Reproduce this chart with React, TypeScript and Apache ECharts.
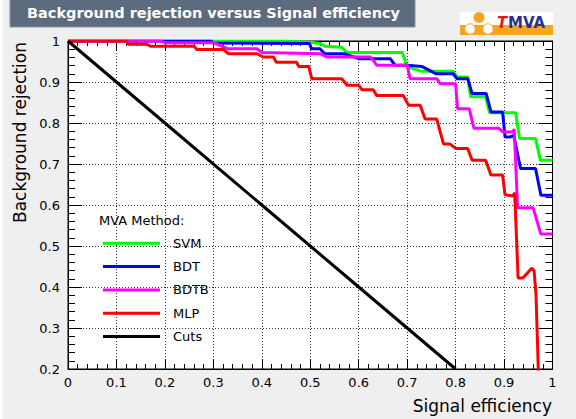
import React, { useEffect, useRef } from "react";
import * as echarts from "echarts";

// ---- data ----
const seriesNames = ["SVM", "BDT", "BDTB", "MLP", "Cuts"];
const seriesColors = ["#00ff00", "#0000ff", "#ff00ff", "#ff0000", "#000000"];

const svm: [number, number][] = [
  [0, 1], [0.44, 1], [0.5, 0.997], [0.52, 0.994], [0.53, 0.987], [0.565, 0.985],
  [0.575, 0.972], [0.69, 0.972], [0.7, 0.937], [0.73, 0.926], [0.795, 0.926],
  [0.803, 0.912], [0.825, 0.912], [0.831, 0.864], [0.862, 0.864], [0.87, 0.825],
  [0.924, 0.825], [0.932, 0.762], [0.965, 0.762], [0.975, 0.709], [1, 0.709],
];

const bdt: [number, number][] = [
  [0, 1], [0.295, 1], [0.3, 0.995], [0.498, 0.994], [0.503, 0.981], [0.52, 0.981],
  [0.53, 0.969], [0.57, 0.969], [0.6, 0.957], [0.665, 0.957], [0.675, 0.941],
  [0.7, 0.941], [0.73, 0.938], [0.76, 0.92], [0.795, 0.92], [0.803, 0.908],
  [0.825, 0.908], [0.834, 0.872], [0.863, 0.872], [0.873, 0.827], [0.897, 0.827],
  [0.902, 0.766], [0.913, 0.766], [0.92, 0.77], [0.934, 0.689], [0.965, 0.689],
  [0.976, 0.624], [1, 0.624],
];

const bdtb: [number, number][] = [
  [0, 1], [0.19, 1], [0.2, 0.996], [0.3, 0.996], [0.33, 0.981], [0.39, 0.981],
  [0.4, 0.972], [0.52, 0.969], [0.534, 0.961], [0.624, 0.961], [0.63, 0.953],
  [0.637, 0.941], [0.7, 0.941], [0.706, 0.908], [0.761, 0.908], [0.768, 0.896],
  [0.8, 0.896], [0.804, 0.835], [0.828, 0.835], [0.838, 0.787], [0.889, 0.787],
  [0.898, 0.778], [0.918, 0.778], [0.921, 0.785], [0.928, 0.593], [0.936, 0.593],
  [0.96, 0.593], [0.976, 0.529], [1, 0.529],
];

const mlp: [number, number][] = [
  [0, 1], [0.12, 1], [0.125, 0.992], [0.163, 0.992], [0.17, 0.987], [0.26, 0.987],
  [0.266, 0.979], [0.321, 0.979], [0.331, 0.969], [0.39, 0.969], [0.403, 0.961],
  [0.424, 0.961], [0.43, 0.948], [0.472, 0.948], [0.476, 0.938], [0.497, 0.938],
  [0.503, 0.908], [0.565, 0.908], [0.576, 0.892], [0.6, 0.892], [0.607, 0.881],
  [0.63, 0.881], [0.637, 0.867], [0.692, 0.867], [0.703, 0.843], [0.727, 0.843],
  [0.737, 0.81], [0.761, 0.81], [0.775, 0.749], [0.788, 0.749], [0.8, 0.738],
  [0.825, 0.738], [0.834, 0.709], [0.862, 0.709], [0.873, 0.673], [0.897, 0.673],
  [0.902, 0.625], [0.919, 0.622], [0.922, 0.63], [0.929, 0.422], [0.939, 0.422],
  [0.957, 0.446], [0.962, 0.44], [0.966, 0.38], [0.972, 0.15],
];

const cuts: [number, number][] = [
  [0, 1], [0.2, 0.8], [0.4, 0.6], [0.6, 0.4], [0.8, 0.2],
];

const seriesData = [svm, bdt, bdtb, mlp, cuts];

const titleText = "Background rejection versus Signal efficiency";
const xTitle = "Signal efficiency";
const yTitle = "Background rejection";
const legendHeader = "MVA Method:";

const FONT = "'DejaVu Sans', sans-serif";
const fmt = (v: number) => String(Math.round(v * 10) / 10);

export default function App() {
  const ref = useRef<HTMLDivElement>(null);

  useEffect(() => {
    document.body.style.margin = "0";
    if (!ref.current) return;
    const chart = echarts.init(ref.current, null, { renderer: "svg" });

    const tickCommon = (len: number, minorLen: number) => ({
      axisLine: { show: true, onZero: false, lineStyle: { color: "#000", width: 1 } },
      axisTick: { show: true, inside: true, length: len, lineStyle: { color: "#000", width: 1 } },
      minorTick: { show: true, splitNumber: 5, length: minorLen, lineStyle: { color: "#000", width: 1 } },
    });

    const gridLine = { show: true, lineStyle: { color: "#333", width: 1, type: [1, 2] } };

    const option: any = {
      animation: false,
      backgroundColor: "#efefef",
      grid: {
        left: 68, right: 23.5, top: 41, bottom: 50,
        show: true, backgroundColor: "#ffffff", borderColor: "#000", borderWidth: 1,
      },
      xAxis: [
        {
          type: "value", min: 0, max: 1, interval: 0.1, position: "bottom",
          ...tickCommon(10, 5),
          splitLine: gridLine,
          axisLabel: { margin: 7, color: "#000", fontFamily: FONT, fontSize: 13, formatter: fmt },
        },
        {
          type: "value", min: 0, max: 1, interval: 0.1, position: "top",
          ...tickCommon(10, 5),
          splitLine: { show: false },
          axisLabel: { show: false },
        },
      ],
      yAxis: [
        {
          type: "value", min: 0.2, max: 1, interval: 0.1, position: "left",
          ...tickCommon(14, 7),
          splitLine: gridLine,
          axisLabel: { margin: 8, color: "#000", fontFamily: FONT, fontSize: 13, formatter: fmt },
        },
        {
          type: "value", min: 0.2, max: 1, interval: 0.1, position: "right",
          ...tickCommon(14, 7),
          splitLine: { show: false },
          axisLabel: { show: false },
        },
      ],
      legend: {
        data: seriesNames,
        orient: "vertical",
        left: 103,
        top: 235.3,
        padding: 0,
        itemGap: 7.3,
        itemWidth: 57,
        itemHeight: 3,
        icon: "rect",
        selectedMode: false,
        textStyle: { fontFamily: FONT, fontSize: 13, color: "#000", lineHeight: 16, padding: [0, 0, 0, 8] },
      },
      series: seriesNames.map((name, i) => ({
        name,
        type: "line",
        xAxisIndex: 0,
        yAxisIndex: 0,
        data: seriesData[i],
        showSymbol: false,
        symbol: "none",
        clip: true,
        color: seriesColors[i],
        lineStyle: { color: seriesColors[i], width: 3 },
        z: 3 + i,
      })),
      graphic: [
        { type: "rect", z: 100, shape: { x: 0, y: 0, width: 3, height: 419 }, style: { fill: "#ffffff" } },
        {
          type: "rect", z: 100,
          shape: { x: 10, y: -1, width: 405, height: 28 },
          style: { fill: "#5d6b7e", stroke: "#8893a2", lineWidth: 1 },
        },
        {
          type: "text", z: 101, x: 27, y: 13,
          style: { text: titleText, fill: "#ffffff", font: `bold 14.5px ${FONT}`, verticalAlign: "middle" },
        },
        {
          type: "text", z: 101, x: 19.5, y: 42, rotation: Math.PI / 2,
          style: { text: yTitle, fill: "#000", font: `17px ${FONT}`, align: "right", verticalAlign: "middle" },
        },
        {
          type: "text", z: 101, x: 552, y: 405.5,
          style: { text: xTitle, fill: "#000", font: `17px ${FONT}`, align: "right", verticalAlign: "middle" },
        },
        {
          type: "text", z: 101, x: 99, y: 220,
          style: { text: legendHeader, fill: "#000", font: `13px ${FONT}`, verticalAlign: "middle" },
        },
        {
          type: "group", z: 100,
          children: [
            { type: "rect", z: 100, shape: { x: 460, y: 12, width: 93, height: 23 }, style: { fill: "#ffffff" } },
            { type: "rect", z: 100, shape: { x: 460, y: 25, width: 93, height: 10 }, style: { fill: "#f7a51e" } },
            { type: "circle", z: 101, shape: { cx: 479, cy: 17.5, r: 5.5 }, style: { fill: "#f7a51e" } },
            { type: "circle", z: 101, shape: { cx: 470, cy: 29, r: 5.2 }, style: { fill: "#ffffff", stroke: "#f7a51e", lineWidth: 1 } },
            { type: "circle", z: 101, shape: { cx: 488, cy: 29, r: 5.2 }, style: { fill: "#ffffff", stroke: "#f7a51e", lineWidth: 1 } },
            {
              type: "text", z: 102, x: 497, y: 22.5,
              style: { text: "T", fill: "#e8141b", font: `italic bold 15px ${FONT}`, verticalAlign: "middle" },
            },
            {
              type: "text", z: 102, x: 508, y: 22.5,
              style: { text: "MVA", fill: "#2b2f8c", font: `bold 15px ${FONT}`, verticalAlign: "middle" },
            },
          ],
        },
      ],
    };

    chart.setOption(option);
    return () => chart.dispose();
  }, []);

  return <div ref={ref} style={{ width: 576, height: 419, background: "#efefef" }} />;
}
